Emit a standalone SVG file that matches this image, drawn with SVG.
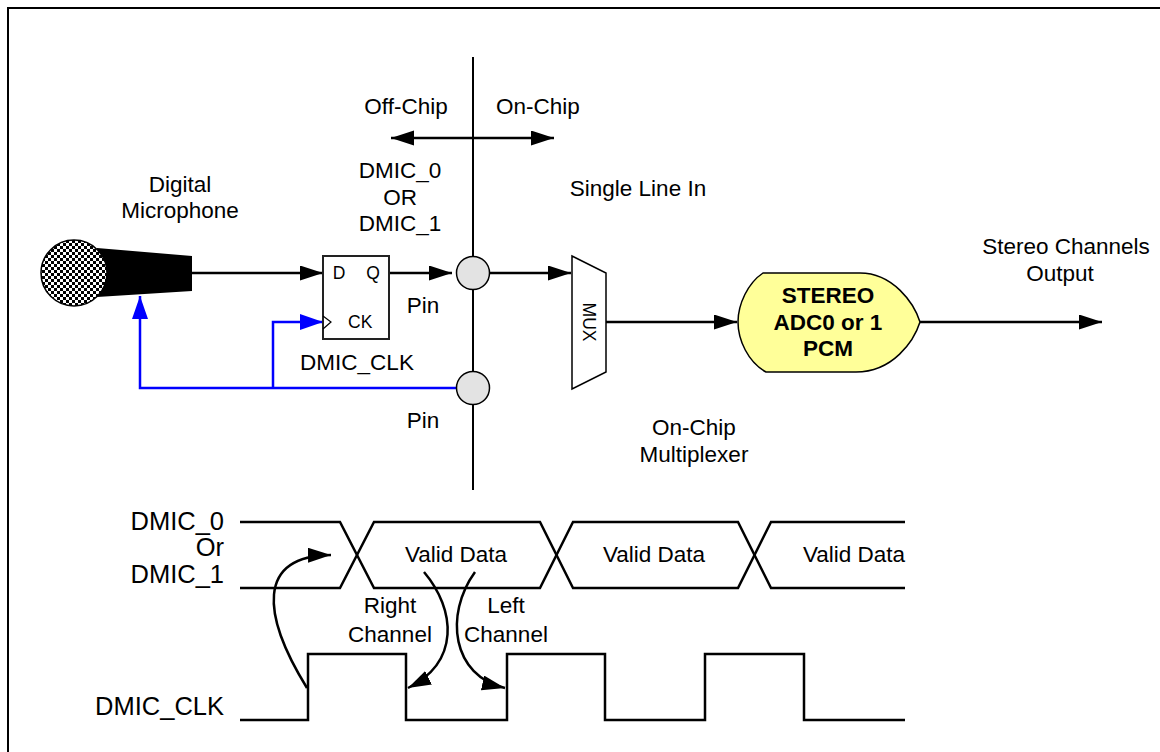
<svg xmlns="http://www.w3.org/2000/svg" width="1160" height="752" viewBox="0 0 1160 752">
<style>
text{font-family:"Liberation Sans",Arial,sans-serif;font-size:22.5px;fill:#000}
.c{text-anchor:middle}
.e{text-anchor:end}
.big{font-size:25.5px}
.sm{font-size:17.5px}
.b{font-weight:bold}
.ln{fill:none;stroke:#000;stroke-width:2.5}
.bl{fill:none;stroke:#0000ff;stroke-width:2.5}
.thin{stroke:#000;stroke-width:1.5}
</style>
<defs>
<marker id="ah" markerUnits="userSpaceOnUse" markerWidth="24" markerHeight="16" refX="23" refY="7.5" orient="auto-start-reverse"><path d="M0,0 L23,7.5 L0,15 z" fill="#000"/></marker>
<marker id="ahb" markerUnits="userSpaceOnUse" markerWidth="24" markerHeight="17" refX="23" refY="8" orient="auto"><path d="M0,0 L23,8 L0,16 z" fill="#0000ff"/></marker>
<pattern id="chk" width="6" height="6" patternUnits="userSpaceOnUse"><rect width="6" height="6" fill="#fff"/><rect width="3" height="3" fill="#000"/><rect x="3" y="3" width="3" height="3" fill="#000"/></pattern>
</defs>
<rect x="8" y="8" width="1170" height="770" fill="#fff" stroke="#000" stroke-width="2"/>

<g id="connectors">
<line x1="473" y1="57" x2="473" y2="490" class="ln" style="stroke-width:2"/>
<line x1="391" y1="138" x2="554" y2="138" class="ln" marker-start="url(#ah)" marker-end="url(#ah)"/>
<line x1="192" y1="273" x2="323" y2="273" class="ln" marker-end="url(#ah)"/>
<line x1="389" y1="273" x2="452" y2="273" class="ln" marker-end="url(#ah)"/>
<line x1="489" y1="273" x2="571" y2="273" class="ln" marker-end="url(#ah)"/>
<line x1="606" y1="322" x2="737" y2="322" class="ln" marker-end="url(#ah)"/>
<line x1="920" y1="322" x2="1102" y2="322" class="ln" marker-end="url(#ah)"/>
<polyline points="456,388 140,388 140,296" class="bl" marker-end="url(#ahb)"/>
<polyline points="273,388 273,322 323,322" class="bl" marker-end="url(#ahb)"/>
</g>

<g id="microphone">
<polygon points="97,248 192,256 192,291 97,297" fill="#000"/>
<circle cx="74" cy="273" r="33" fill="url(#chk)" stroke="#000" stroke-width="1.5"/>
<text x="180" y="192" class="c">Digital</text>
<text x="180" y="218" class="c">Microphone</text>
</g>

<g id="flipflop">
<rect x="323" y="256" width="66" height="83" fill="#fff" stroke="#222" stroke-width="2"/>
<polyline points="323,316 331,322 323,329" fill="none" stroke="#000" stroke-width="1.2"/>
<text x="339" y="279" class="sm c">D</text>
<text x="373" y="279" class="sm c">Q</text>
<text x="348" y="328" class="sm">CK</text>
<text x="357" y="370" class="c">DMIC_CLK</text>
</g>

<g id="pin-top">
<circle cx="473" cy="273" r="16.5" fill="#e3e3e3" class="thin"/>
<text x="423" y="313" class="c">Pin</text>
</g>
<g id="pin-bottom">
<circle cx="473" cy="388" r="16.5" fill="#e3e3e3" class="thin"/>
<text x="423" y="428" class="c">Pin</text>
</g>

<g id="labels-top">
<text x="406" y="114" class="c">Off-Chip</text>
<text x="538" y="114" class="c">On-Chip</text>
<text x="400" y="178" class="c">DMIC_0</text>
<text x="400" y="205" class="c">OR</text>
<text x="400" y="231" class="c">DMIC_1</text>
<text x="638" y="196" class="c">Single Line In</text>
</g>

<g id="mux">
<polygon points="572,256 606,273 606,372 572,389" fill="#fff" class="thin"/>
<text x="0" y="0" class="sm c" transform="translate(583,322) rotate(90)">MUX</text>
<text x="694" y="435" class="c">On-Chip</text>
<text x="694" y="462" class="c">Multiplexer</text>
</g>

<g id="adc">
<path d="M763,273 H860 C893,273 914,303 920,322 C914,341 893,372 856,372 H766 C748,362 738,340 738,322 C738,304 748,283 763,273 Z" fill="#ffff99" class="thin"/>
<text x="828" y="303" class="c b">STEREO</text>
<text x="828" y="330" class="c b">ADC0 or 1</text>
<text x="828" y="356" class="c b">PCM</text>
</g>

<g id="output">
<text x="1066" y="254" class="c">Stereo Channels</text>
<text x="1060" y="281" class="c">Output</text>
</g>

<g id="timing">
<text x="224" y="530" class="big e">DMIC_0</text>
<text x="224" y="556" class="big e">Or</text>
<text x="224" y="583" class="big e">DMIC_1</text>
<text x="224" y="715" class="big e">DMIC_CLK</text>
<path d="M240,522 H340 L374,588 H540 L573,522 H738 L771,588 H905" class="ln"/>
<path d="M240,588 H340 L374,522 H540 L573,588 H738 L771,522 H905" class="ln"/>
<path d="M240,720 H308 V654 H406 V720 H507 V654 H605 V720 H705 V654 H804 V720 H905" class="ln"/>
<text x="456" y="562" class="c">Valid Data</text>
<text x="654" y="562" class="c">Valid Data</text>
<text x="854" y="562" class="c">Valid Data</text>
<text x="390" y="613" class="c">Right</text>
<text x="390" y="642" class="c">Channel</text>
<text x="506" y="613" class="c">Left</text>
<text x="506" y="642" class="c">Channel</text>
<path d="M307,688 C262,615 256,556 331,555" class="ln" marker-end="url(#ah)"/>
<path d="M424,572 C456,610 460,662 408,688" class="ln" marker-end="url(#ah)"/>
<path d="M475,572 C444,615 452,676 505,688" class="ln" marker-end="url(#ah)"/>
</g>
</svg>
